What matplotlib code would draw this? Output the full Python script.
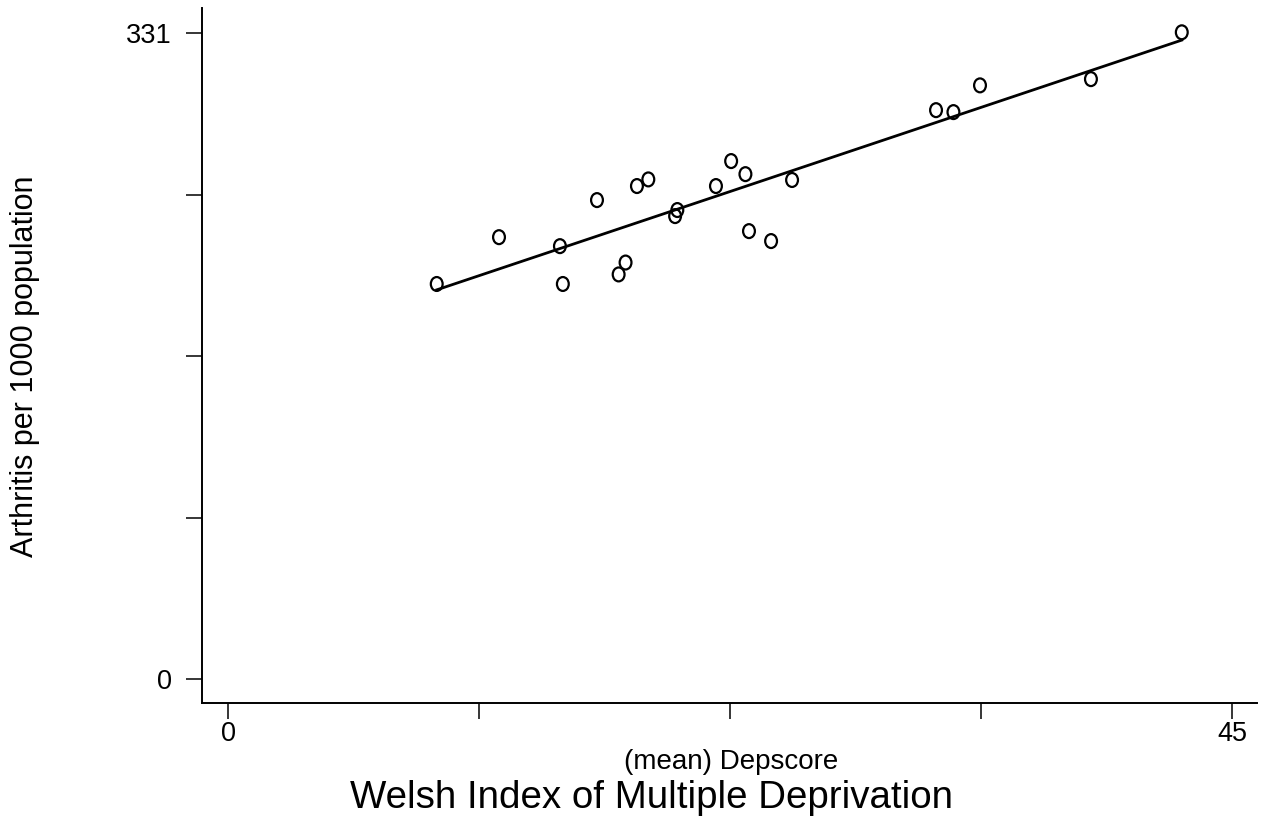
import numpy as np
import matplotlib
matplotlib.use('Agg')
import matplotlib.pyplot as plt
from matplotlib.path import Path

plt.rcParams['font.family'] = ['Liberation Sans', 'DejaVu Sans']

# (mean) Depscore and arthritis rate for each area
depscore = [9.35, 12.14, 14.87, 15.00, 16.53, 17.50, 17.81, 18.32, 18.83, 20.03, 20.13,
            21.86, 22.54, 23.18, 23.34, 24.33, 25.27, 31.72, 32.50, 33.69, 38.66, 42.73]
arthritis = [202.5, 226.5, 221.9, 202.5, 245.5, 207.4, 213.5, 252.7, 256.1, 237.3, 240.4,
             252.7, 265.5, 258.8, 229.6, 224.5, 255.8, 291.6, 290.6, 304.3, 307.5, 331.5]

xticks = [0, 11.25, 22.5, 33.75, 45]
xticklabels = ['0', '', '', '', '45']
yticks = [0, 82.75, 165.5, 248.25, 331]
yticklabels = ['0', '', '', '', '331']

W, H = 1266, 818
fig = plt.figure(figsize=(W / 100, H / 100), dpi=100)
ax = fig.add_axes([201.7 / W, 1 - 702.7 / H, (1257 - 201.7) / W, (702.7 - 8.3) / H])

# slightly tall hollow circle, like the stata "Oh" symbol
circ = Path.unit_circle()
oval = Path(circ.vertices * [0.85, 1.0], circ.codes)

x = np.array(depscore)
y = np.array(arthritis)
ax.scatter(x, y, s=100, marker=oval, facecolors='none', edgecolors='black',
           linewidths=1.6, zorder=3)

# linear fit line
b, a = np.polyfit(x, y, 1)
xs = np.sort(x)
ax.plot(xs, a + b * xs, color='black', lw=2.0)

ax.set_xlim(-1.18, 46.1)
ax.set_ylim(-12.1, 343.8)
ax.set_xticks(xticks)
ax.set_xticklabels(xticklabels)
ax.set_yticks(yticks)
ax.set_yticklabels(yticklabels)
ax.tick_params(direction='out', length=11.5, width=1.1, labelsize=19.5, pad=2)
ax.tick_params(axis='y', pad=10)
for s in ['top', 'right']:
    ax.spines[s].set_visible(False)
for s in ['left', 'bottom']:
    ax.spines[s].set_linewidth(1.4)

fig.text(25 / W, 1 - 366 / H, 'Arthritis per 1000 population', rotation=90,
         ha='center', va='center', fontsize=22)
fig.text(731 / W, 1 - 769 / H, '(mean) Depscore', ha='center', va='baseline', fontsize=20)
fig.text(652 / W, 1 - 808 / H, 'Welsh Index of Multiple Deprivation', ha='center',
         va='baseline', fontsize=27.7)

fig.savefig('out.png', dpi=100)
